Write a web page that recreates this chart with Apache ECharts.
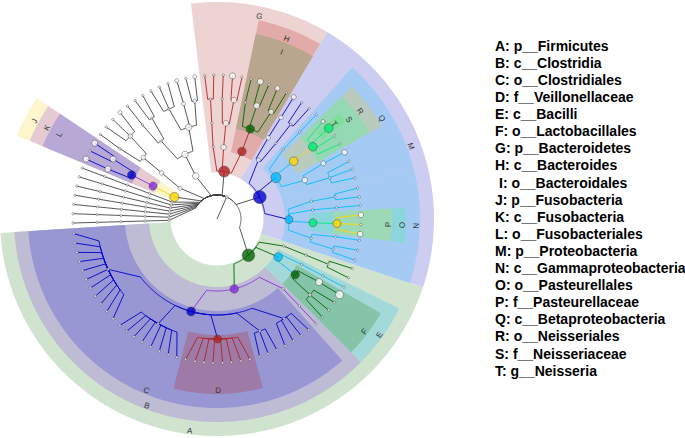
<!DOCTYPE html>
<html>
<head>
<meta charset="utf-8">
<script src="https://cdn.jsdelivr.net/npm/echarts@6/dist/echarts.min.js"></script>
<style>
  html, body { margin: 0; padding: 0; background: #fff; }
  #chart { width: 685px; height: 438px; }
</style>
</head>
<body>
<div id="chart"></div>
<script>
// radius (axis units) of each taxonomic level: root, kingdom, phylum, class, order, family, genus
const levelRadius = [0, 24, 48, 72, 96, 120, 144];

// taxonomy: [id, parent]
const taxa = [
  ['root', null], ['k', 'root'],
  // Firmicutes
  ['Fir', 'k'],
  ['Clo_c', 'Fir'], ['Clo_o', 'Clo_c'],
  ['cf1', 'Clo_o'], ['cf2', 'Clo_o'], ['Vei', 'Clo_o'], ['cf3', 'Clo_o'], ['cf4', 'Clo_o'],
  ['co2', 'Clo_c'], ['cf5', 'co2'],
  ['Bci_c', 'Fir'], ['Lac', 'Bci_c'], ['lf1', 'Lac'], ['lf2', 'Lac'],
  ['bo2', 'Bci_c'], ['bf2', 'bo2'],
  ['fc3', 'Fir'], ['fo3', 'fc3'], ['ff3', 'fo3'],
  // Proteobacteria
  ['Pro', 'k'],
  ['Gam', 'Pro'],
  ['no1', 'Gam'], ['nf1', 'no1'], ['nf2', 'no1'],
  ['Pas_o', 'Gam'], ['Pas_f', 'Pas_o'],
  ['no2', 'Gam'], ['nf3', 'no2'],
  ['no3', 'Gam'], ['nf4', 'no3'],
  ['Bet', 'Pro'],
  ['qo1', 'Bet'], ['qf1', 'qo1'], ['qf2', 'qo1'],
  ['Nei_o', 'Bet'], ['Nei_f', 'Nei_o'],
  ['qo3', 'Bet'], ['qf3', 'qo3'],
  ['pc3', 'Pro'], ['po3', 'pc3'], ['pf3', 'po3'], ['po4', 'pc3'], ['pf4', 'po4'],
  // Bacteroidetes
  ['Bac', 'k'],
  ['Bcd_c', 'Bac'], ['Bcd_o', 'Bcd_c'], ['if1', 'Bcd_o'], ['if2', 'Bcd_o'], ['if3', 'Bcd_o'],
  ['bc2', 'Bac'], ['bo2x', 'bc2'], ['bfa', 'bo2x'], ['bfc', 'bo2x'],
  ['bc3', 'Bac'], ['bo3', 'bc3'], ['bfb', 'bo3'],
  // phyla without differences
  ['P1', 'k'], ['c1', 'P1'], ['o1', 'c1'], ['fa', 'o1'], ['fx', 'o1'], ['fy', 'o1'],
  ['o2', 'c1'], ['fz', 'o2'], ['fw', 'o2'],
  ['P2', 'k'], ['c2', 'P2'], ['o3', 'c2'], ['fq', 'o3'], ['fr', 'o3'],
  // Fusobacteria
  ['Fus', 'k'], ['Fus_c', 'Fus'], ['Fus_o', 'Fus_c'], ['uf1', 'Fus_o'], ['uf2', 'Fus_o']
];

// genus tips per family, angle in degrees (counter-clockwise from 3 o'clock)
const genera = [
  ['cf1', [-174.2, -170.4, -166.6, -162.8, -159.0, -155.2, -151.4, -147.6, -143.8, -140.0, -136.2]],
  ['cf2', [-132.4, -128.8, -125.2, -121.4, -117.4, -113.6, -109.8, -106.2]],
  ['Vei', [-102.6, -98.8, -95.2, -91.6, -87.8, -84.2, -80.4, -76.8]],
  ['cf3', [-72.8, -69.2, -65.4]],
  ['cf4', [-61.8, -58.0, -54.2, -50.4]],
  ['cf5', [-46.6]],
  ['lf1', [-43.0, -39.2, -35.4]],
  ['lf2', [-31.7]],
  ['bf2', [-28.2]],
  ['ff3', [-24.1, -20.1]],
  ['nf1', [-16.6, -12.5]],
  ['nf2', [-8.5]],
  ['Pas_f', [-6.0, -2.2, 1.6]],
  ['nf3', [5.4]],
  ['nf4', [8.8, 12.4]],
  ['qf1', [16.6, 20.2, 23.6]],
  ['qf2', [27.6]],
  ['Nei_f', [31.4, 35.2, 39.1, 42.6]],
  ['qf3', [46.4]],
  ['pf4', [50.2, 54.0]],
  ['pf3', [57.8]],
  ['if1', [61.2, 65.2]],
  ['if2', [68.9, 72.5]],
  ['if3', [76.3]],
  ['bfa', [80.0, 83.8]],
  ['bfc', [87.5]],
  ['bfb', [91.3, 94.9]],
  ['fa', [98.9, 102.5]],
  ['fx', [106.2]],
  ['fy', [109.9, 113.6, 117.3]],
  ['fz', [121.0, 124.7]],
  ['fw', [128.4]],
  ['fq', [132.3, 136.3, 140.3]],
  ['fr', [144.1]],
  ['uf2', [148.2, 151.8]],
  ['uf1', [155.4]]
];

// phyla that are a single lineage down to one genus
const loneTips = [159.3, 163.0, 166.8, 170.5, 174.2, 177.9, 181.6];

// highlighted clades
const cladeLetters = ['A','B','C','D','E','F','G','H','I','J','K','L','M','N','O','P','Q','R','S','T'];
const cladeNodes = ['Fir','Clo_c','Clo_o','Vei','Bci_c','Lac','Bac','Bcd_c','Bcd_o','Fus','Fus_c','Fus_o',
                    'Pro','Gam','Pas_o','Pas_f','Bet','Nei_o','Nei_f','Nei_f_2'];
const cladeNames = ['p__Firmicutes','c__Clostridia','o__Clostridiales','f__Veillonellaceae','c__Bacilli',
  'o__Lactobacillales','p__Bacteroidetes','c__Bacteroides','o__Bacteroidales','p__Fusobacteria',
  'c__Fusobacteria','o__Fusobacteriales','p__Proteobacteria','c__Gammaproteobacteria','o__Pasteurellales',
  'f__Pasteurellaceae','c__Betaproteobacteria','o__Neisseriales','f__Neisseriaceae','g__Neisseria'];

// ---- styles ----
const nodeFill = {
  Fir: '#006400', Clo_c: '#8a2be2', Clo_o: '#0000cd', Vei: '#b22222', Bci_c: '#00bfff', Lac: '#006400',
  Bac: '#b22222', Bcd_c: '#b22222', Bcd_o: '#006400',
  Fus: '#ffd700', Fus_c: '#8a2be2', Fus_o: '#0000cd',
  Pro: '#0000cd', Gam: '#00bfff', Pas_o: '#00ee76', Pas_f: '#ffd700', Bet: '#00bfff',
  Nei_o: '#ffd700', Nei_f: '#00ee76', Nei_f_2: '#00ee76'
};
const nodeDiam = {
  k: 3,
  Fir: 12.5, Pro: 13, Bac: 11, Fus: 9,
  Clo_c: 8.5, Clo_o: 9, Vei: 8, Bci_c: 8.5, Lac: 8.5,
  Bcd_c: 8.5, Bcd_o: 8.5, Fus_c: 8, Fus_o: 8.5,
  Gam: 8, Pas_o: 8, Pas_f: 8, Bet: 10, Nei_o: 8.5, Nei_f: 8.5, Nei_f_2: 8.5,
  P1: 6.5, c1: 6.5, o1: 6.5, fa: 4, fx: 4, fa_0: 4, fx_0: 4,
  P2: 4, c2: 4.5, o3: 4.5, fq: 4.5, fq_0: 4,
  uf1: 6, uf2: 6, uf1_0: 6, uf2_0: 6,
  bc2: 5.5, bo2x: 5.5, bfa: 5.5, bfa_1: 6,
  if1: 5, if2: 6, if1_1: 5, if2_1: 6,
  lf1: 3, lf2: 7, lf2_0: 8,
  qo1: 5.5, qf2: 5, qf2_0: 5.5, Nei_f_3: 4,
  Pas_f_0: 5.5, Pas_f_2: 5.5,
  pc3: 4, po3: 4.5, pf3: 4.5, pf3_0: 5
};
const cladeFill = {
  A: '#cfe3cf', B: '#bebbd4', C: '#9897d3', D: '#9e7aa6', E: '#a3d9d8', F: '#86c4aa',
  G: '#eed3d3', H: '#e3aaaa', I: '#b9a68f', J: '#fdf6cc', K: '#e6cad1', L: '#b8a8d6',
  M: '#cdcdf2', N: '#a5caf3', O: '#8bd5dc', P: '#9dd9b7', Q: '#a5caf3', R: '#b9cbbd',
  S: '#95d8b4', T: '#7ddf9d'
};
const ringInner = [0, 0, 46.5, 68, 92, 116, 132];
const ringOuter = [0, 0, 217, 203, 189, 175, 161];
const grayInk = '#444';
const fontFam = '"Liberation Sans", Arial, sans-serif';

// ---- build the tree ----
const byId = {};
function addNode(id, parent, angle) { byId[id] = { id: id, parent: parent, angle: angle, kids: [] }; }
taxa.forEach(t => addNode(t[0], t[1]));
genera.forEach(g => g[1].forEach((a, i) => addNode(g[0] + '_' + i, g[0], a)));
loneTips.forEach((a, i) => {
  const p = 'x' + i;
  addNode(p, 'k'); addNode(p + 'c', p); addNode(p + 'o', p + 'c'); addNode(p + 'f', p + 'o'); addNode(p + 'g', p + 'f', a);
});
const allNodes = Object.keys(byId).map(id => byId[id]);
allNodes.forEach(n => { if (n.parent) { n.up = byId[n.parent]; n.up.kids.push(n); } });

// an inner node sits half way between its outermost children
function place(n, depth) {
  n.depth = depth;
  n.r = levelRadius[depth];
  n.kids.forEach(k => place(k, depth + 1));
  if (n.kids.length) {
    const a = n.kids.map(k => k.angle);
    n.angle = (Math.min.apply(null, a) + Math.max.apply(null, a)) / 2;
  }
}
place(byId.root, 0);

const tipsSorted = allNodes.filter(n => !n.kids.length).map(n => n.angle).sort((a, b) => a - b);
function leafSpan(n) {
  if (!n.kids.length) return [n.angle, n.angle];
  let lo = Infinity, hi = -Infinity;
  n.kids.forEach(k => { const s = leafSpan(k); lo = Math.min(lo, s[0]); hi = Math.max(hi, s[1]); });
  return [lo, hi];
}
// a highlight reaches half way to the neighbouring tips
function wedgeSpan(n) {
  const s = leafSpan(n);
  const last = tipsSorted.length - 1;
  const i = tipsSorted.indexOf(s[0]), j = tipsSorted.indexOf(s[1]);
  const prev = i > 0 ? tipsSorted[i - 1] : tipsSorted[last] - 360;
  const next = j < last ? tipsSorted[j + 1] : tipsSorted[0] + 360;
  return [(prev + s[0]) / 2, (s[1] + next) / 2];
}
function inkOf(n) {
  while (n) { if (nodeFill[n.id]) return nodeFill[n.id]; n = n.up; }
  return grayInk;
}

// ---- series data ----
const wedgeOrder = cladeLetters.map((l, i) => i).sort((a, b) => byId[cladeNodes[a]].depth - byId[cladeNodes[b]].depth);
const wedgeData = [], wedgeLetter = [];
wedgeOrder.forEach(i => {
  const n = byId[cladeNodes[i]];
  const s = wedgeSpan(n);
  wedgeData.push([ringInner[n.depth], s[0], ringOuter[n.depth], s[1]]);
  wedgeLetter.push(cladeLetters[i]);
});

const edgeData = [], edgeInk = [];
allNodes.forEach(n => {
  if (!n.up) return;
  edgeData.push([n.up.r, n.up.angle, n.r, n.angle]);
  edgeInk.push(inkOf(n.up));
});

const nodeData = [];
allNodes.forEach(n => {
  if (n.id === 'root') return;
  nodeData.push({
    value: [n.r, n.angle],
    symbolSize: nodeDiam[n.id] || 2.4,
    itemStyle: { color: nodeFill[n.id] || '#fff', borderColor: '#444', borderWidth: 0.6 }
  });
});

const chart = echarts.init(document.getElementById('chart'), null, { renderer: 'svg' });

const hiddenAxis = { show: false, axisLine: { show: false }, axisTick: { show: false },
  axisLabel: { show: false }, splitLine: { show: false }, splitArea: { show: false } };

const option = {
  animation: false,
  backgroundColor: '#fff',
  polar: { center: [217, 219], radius: 217 },
  angleAxis: Object.assign({ type: 'value', min: -176, max: 184, startAngle: -176, clockwise: false }, hiddenAxis),
  radiusAxis: Object.assign({ type: 'value', min: 0, max: 217 }, hiddenAxis),
  series: [
    {
      type: 'custom', coordinateSystem: 'polar', silent: true, z: 1,
      data: wedgeData,
      renderItem: function (params, api) {
        const rIn = api.value(0), a1 = api.value(1), rOut = api.value(2), a2 = api.value(3);
        const pts = [];
        for (let a = a1; a < a2; a += 0.5) pts.push(api.coord([rOut, a]).slice(0, 2));
        pts.push(api.coord([rOut, a2]).slice(0, 2));
        for (let a = a2; a > a1; a -= 0.5) pts.push(api.coord([rIn, a]).slice(0, 2));
        pts.push(api.coord([rIn, a1]).slice(0, 2));
        const letter = wedgeLetter[params.dataIndex];
        const mid = (a1 + a2) / 2;
        const upper = Math.sin(mid * Math.PI / 180) > 0;
        const pos = api.coord([upper ? rOut - 10 : rOut - 3.5, mid]);
        const rot = (upper ? mid - 90 : mid + 90) * Math.PI / 180;
        return {
          type: 'group',
          children: [
            { type: 'polygon', shape: { points: pts }, style: { fill: cladeFill[letter], stroke: null } },
            { type: 'text', x: pos[0], y: pos[1], rotation: rot,
              style: { text: letter, fill: '#333', font: '8px ' + fontFam, align: 'center', verticalAlign: 'middle' } }
          ]
        };
      }
    },
    {
      type: 'custom', coordinateSystem: 'polar', silent: true, z: 2,
      data: edgeData,
      renderItem: function (params, api) {
        const rp = api.value(0), ap = api.value(1), rc = api.value(2), ac = api.value(3);
        // arc along the parent's ring for three quarters of the turn, then straight to the child
        const am = ap + 0.75 * (ac - ap);
        const steps = Math.max(1, Math.ceil(Math.abs(am - ap) / 0.5));
        const pts = [];
        for (let i = 0; i <= steps; i++) pts.push(api.coord([rp, ap + (am - ap) * i / steps]).slice(0, 2));
        pts.push(api.coord([rc, ac]).slice(0, 2));
        return { type: 'polyline', shape: { points: pts },
          style: { stroke: edgeInk[params.dataIndex], fill: null, lineWidth: 0.9 } };
      }
    },
    {
      type: 'scatter', coordinateSystem: 'polar', silent: true, z: 3,
      symbol: 'circle',
      data: nodeData
    }
  ],
  graphic: cladeLetters.map((l, i) => ({
    type: 'text',
    x: 495 + (l === 'I' ? 4 : 0),
    y: 45.7 + i * 17.1,
    style: { text: l + ': ' + cladeNames[i], fill: '#000', font: 'bold 14px ' + fontFam, verticalAlign: 'middle' }
  }))
};

chart.setOption(option);
</script>
</body>
</html>
